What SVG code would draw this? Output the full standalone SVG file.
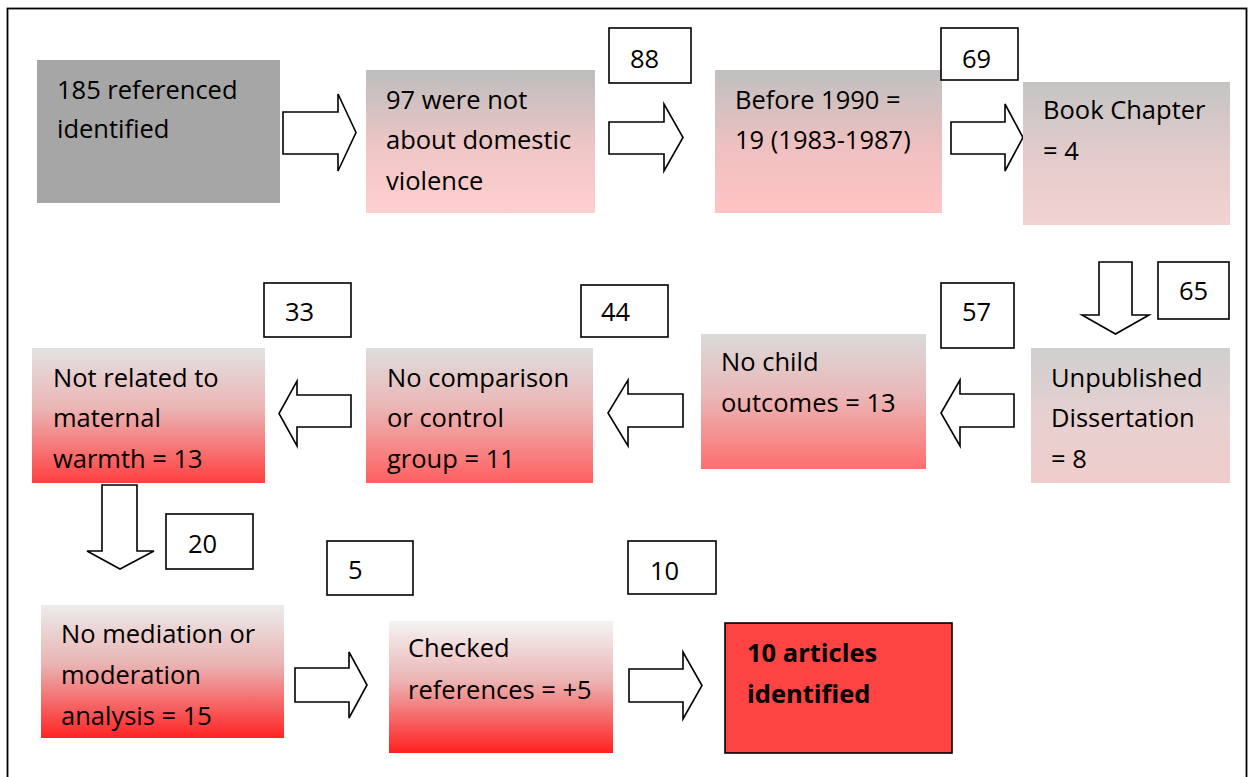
<svg xmlns="http://www.w3.org/2000/svg" width="1249" height="777" viewBox="0 0 1249 777">
<defs>
<style>
text{font-family:"Open Sans","Liberation Sans",Arial,sans-serif;font-size:25.5px;fill:#000}
.b{font-weight:bold}
.num{fill:#fff;stroke:#000;stroke-width:1.6}
.arr{fill:#fff;stroke:#000;stroke-width:1.6;stroke-linejoin:miter}
</style>
<linearGradient id="g2" x1="0" y1="0" x2="0" y2="1"><stop offset="0" stop-color="#bdbdbd"/><stop offset="0.55" stop-color="#f0c6c6"/><stop offset="1" stop-color="#ffcfcf"/></linearGradient>
<linearGradient id="g3" x1="0" y1="0" x2="0" y2="1"><stop offset="0" stop-color="#c0c0c0"/><stop offset="0.55" stop-color="#f0c0c0"/><stop offset="1" stop-color="#ffc4c4"/></linearGradient>
<linearGradient id="g4" x1="0" y1="0" x2="0" y2="1"><stop offset="0" stop-color="#c4c4c4"/><stop offset="0.55" stop-color="#e6cccc"/><stop offset="1" stop-color="#f2d2d2"/></linearGradient>
<linearGradient id="g5" x1="0" y1="0" x2="0" y2="1"><stop offset="0" stop-color="#cfcfcf"/><stop offset="0.55" stop-color="#e8d0d0"/><stop offset="1" stop-color="#f0cccc"/></linearGradient>
<linearGradient id="g6" x1="0" y1="0" x2="0" y2="1"><stop offset="0" stop-color="#dadada"/><stop offset="0.45" stop-color="#ebb8b8"/><stop offset="1" stop-color="#ff6e6e"/></linearGradient>
<linearGradient id="g7" x1="0" y1="0" x2="0" y2="1"><stop offset="0" stop-color="#dedede"/><stop offset="0.45" stop-color="#ecb4b4"/><stop offset="1" stop-color="#ff6060"/></linearGradient>
<linearGradient id="g8" x1="0" y1="0" x2="0" y2="1"><stop offset="0" stop-color="#e2e2e2"/><stop offset="0.45" stop-color="#ecb4b4"/><stop offset="1" stop-color="#ff3f3f"/></linearGradient>
<linearGradient id="g9" x1="0" y1="0" x2="0" y2="1"><stop offset="0" stop-color="#ececec"/><stop offset="0.45" stop-color="#eab2b2"/><stop offset="1" stop-color="#ff2424"/></linearGradient>
<linearGradient id="g10" x1="0" y1="0" x2="0" y2="1"><stop offset="0" stop-color="#f4f4f4"/><stop offset="0.45" stop-color="#ecb4b4"/><stop offset="1" stop-color="#ff2020"/></linearGradient>
</defs>
<rect x="0" y="0" width="1249" height="777" fill="#fff"/>
<rect x="7.5" y="8.5" width="1239" height="800" fill="none" stroke="#000" stroke-width="1.8"/>

<g id="connectors">
<path class="arr" d="M283,112 H338 V94 L356,132.5 L338,171 V154 H283 Z"/>
<path class="arr" d="M609,122 H664 V104 L683,137.5 L664,171 V154 H609 Z"/>
<path class="arr" d="M951,122 H1005 V104 L1023,137.5 L1005,171 V154 H951 Z"/>
<path class="arr" d="M1099,262 H1132 V315 H1149 L1115.5,334 L1082,315 H1099 Z"/>
<path class="arr" d="M1014,394 V427 H960 V446 L941,413 L960,380 V394 Z"/>
<path class="arr" d="M683,394 V427 H628 V446 L608,413 L628,380 V394 Z"/>
<path class="arr" d="M351,395 V427 H297 V446 L279,413.5 L297,381 V395 Z"/>
<path class="arr" d="M102,485 H137 V551 H154 L120,569 L87,551 H102 Z"/>
<path class="arr" d="M295,668 H349 V652 L367,685 L349,718 V702 H295 Z"/>
<path class="arr" d="M629,669 H683 V652 L702,685.5 L683,719 V702 H629 Z"/>
</g>

<g id="n1"><rect x="37" y="60" width="243" height="143" fill="#a6a6a6"/><text x="57" y="99">185 referenced</text><text x="57" y="138">identified</text></g>
<g id="n2"><rect x="366" y="70" width="229" height="143" fill="url(#g2)"/><text x="386" y="109">97 were not</text><text x="386" y="149">about domestic</text><text x="386" y="190">violence</text></g>
<g id="c88"><rect class="num" x="609" y="28" width="82" height="55"/><text x="630" y="68">88</text></g>
<g id="n3"><rect x="715" y="70" width="227" height="143" fill="url(#g3)"/><text x="735" y="109">Before 1990 =</text><text x="735" y="149">19 (1983-1987)</text></g>
<g id="c69"><rect class="num" x="941" y="28" width="77" height="52"/><text x="962" y="68">69</text></g>
<g id="n4"><rect x="1023" y="82" width="207" height="143" fill="url(#g4)"/><text x="1043" y="119">Book Chapter</text><text x="1043" y="160">= 4</text></g>
<g id="c65"><rect class="num" x="1158" y="262" width="71" height="57"/><text x="1179" y="300">65</text></g>
<g id="n5"><rect x="1031" y="348" width="199" height="135" fill="url(#g5)"/><text x="1051" y="387">Unpublished</text><text x="1051" y="427">Dissertation</text><text x="1051" y="468">= 8</text></g>
<g id="c57"><rect class="num" x="941" y="283" width="73" height="65"/><text x="962" y="321">57</text></g>
<g id="n6"><rect x="701" y="334" width="225" height="135" fill="url(#g6)"/><text x="721" y="371">No child</text><text x="721" y="412">outcomes = 13</text></g>
<g id="c44"><rect class="num" x="581" y="285" width="87" height="52"/><text x="601" y="321">44</text></g>
<g id="n7"><rect x="366" y="348" width="227" height="135" fill="url(#g7)"/><text x="387" y="387">No comparison</text><text x="387" y="427">or control</text><text x="387" y="468">group = 11</text></g>
<g id="c33"><rect class="num" x="264" y="283" width="87" height="54"/><text x="285" y="321">33</text></g>
<g id="n8"><rect x="32" y="348" width="233" height="135" fill="url(#g8)"/><text x="53" y="387">Not related to</text><text x="53" y="427">maternal</text><text x="53" y="468">warmth = 13</text></g>
<g id="c20"><rect class="num" x="166" y="514" width="87" height="55"/><text x="188" y="553">20</text></g>
<g id="n9"><rect x="41" y="605" width="243" height="133" fill="url(#g9)"/><text x="61" y="643">No mediation or</text><text x="61" y="684">moderation</text><text x="61" y="725">analysis = 15</text></g>
<g id="c5"><rect class="num" x="327" y="541" width="86" height="54"/><text x="348" y="579">5</text></g>
<g id="n10"><rect x="389" y="621" width="224" height="132" fill="url(#g10)"/><text x="408" y="657">Checked</text><text x="408" y="699">references = +5</text></g>
<g id="c10"><rect class="num" x="628" y="541" width="88" height="53"/><text x="650" y="580">10</text></g>
<g id="n11"><rect x="725" y="623" width="227" height="130" fill="#fe4343" stroke="#000" stroke-width="1.6"/><text class="b" x="747" y="662">10 articles</text><text class="b" x="747" y="703">identified</text></g>
</svg>
